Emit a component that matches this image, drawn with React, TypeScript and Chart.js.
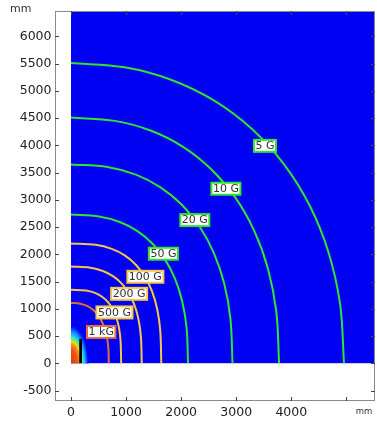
import React, { useEffect, useRef } from 'react';
import { Chart, registerables } from 'chart.js';

Chart.register(...registerables);

// ---- Data (mm) ----
const xTickValues = [0, 1000, 2000, 3000, 4000, 5000];
const yTickValues = [-500, 0, 500, 1000, 1500, 2000, 2500, 3000, 3500, 4000, 4500, 5000, 5500, 6000];

const contourNames = ['5 G', '10 G', '20 G', '50 G', '100 G', '200 G', '500 G', '1 kG'];

// contour traces (x, y in mm)
const contour5G = [
  [0, 5510], [973, 5432], [1827, 5200], [2601, 4820], [3286, 4300], [3868, 3653],
  [4336, 2892], [4678, 2031], [4887, 1081], [4957, 0],
];
const contour10G = [
  [0, 4510], [797, 4449], [1456, 4267], [2041, 3969], [2551, 3558], [2982, 3045],
  [3326, 2435], [3576, 1738], [3728, 951], [3779, 0],
];
const contour20G = [
  [0, 3650], [661, 3603], [1177, 3462], [1626, 3230], [2013, 2909], [2338, 2506],
  [2595, 2024], [2782, 1464], [2895, 822], [2933, 0],
];
const contour50G = [
  [0, 2730], [509, 2696], [885, 2595], [1207, 2428], [1481, 2196], [1709, 1903],
  [1890, 1550], [2020, 1137], [2099, 654], [2125, 0],
];
const contour100G = [
  [0, 2200], [448, 2175], [741, 2101], [982, 1978], [1182, 1806], [1346, 1586],
  [1474, 1317], [1566, 994], [1621, 601], [1640, 0],
];
const contour200G = [
  [0, 1776], [351, 1756], [580, 1696], [769, 1596], [926, 1458], [1055, 1280],
  [1155, 1063], [1227, 802], [1270, 486], [1285, 0],
];
const contour500G = [
  [0, 1350], [272, 1336], [435, 1293], [565, 1223], [672, 1123], [758, 995],
  [825, 837], [873, 644], [901, 404], [911, 0],
];
const contour1kG = [
  [0, 1110], [169, 1096], [291, 1056], [395, 989], [482, 897], [555, 779],
  [612, 638], [654, 471], [679, 274], [687, 0],
];

const contourData = [contour5G, contour10G, contour20G, contour50G, contour100G, contour200G, contour500G, contour1kG];
const contourColors = ['#2ee62e', '#2ee62e', '#2ee62e', '#2ee62e', '#f7c648', '#f7c648', '#f7c648', '#e66a3c'];

// label centers (mm)
const labelX = [3522, 2813, 2248, 1678, 1351, 1056, 790, 549];
const labelY = [3991, 3204, 2629, 2012, 1589, 1276, 935, 577];

// coil cross-section (mm)
const coilX = [150, 200];
const coilY = [0, 450];

const BLUE = 'rgb(0,0,242)';

const fieldPlugin = {
  id: 'fieldPlugin',
  beforeDatasetsDraw(chart: any) {
    const { ctx, chartArea, scales } = chart;
    const xs = scales.x;
    const ys = scales.y;
    const x0 = xs.getPixelForValue(0);
    const y0 = ys.getPixelForValue(0);
    ctx.save();
    ctx.beginPath();
    ctx.rect(x0, chartArea.top, chartArea.right - x0, y0 - chartArea.top);
    ctx.clip();
    ctx.fillStyle = BLUE;
    ctx.fillRect(x0, chartArea.top, chartArea.right - x0, y0 - chartArea.top);
    const rx = xs.getPixelForValue(320) - x0;
    const ry = y0 - ys.getPixelForValue(700);
    ctx.save();
    ctx.translate(x0, y0);
    ctx.scale(rx, ry);
    const g = ctx.createRadialGradient(0, 0, 0, 0, 0, 1);
    g.addColorStop(0, '#d8380e');
    g.addColorStop(0.35, '#ec5512');
    g.addColorStop(0.5, '#f59018');
    g.addColorStop(0.58, '#f2e01e');
    g.addColorStop(0.64, '#7ae84a');
    g.addColorStop(0.7, '#22e6e6');
    g.addColorStop(0.82, '#1e8cff');
    g.addColorStop(0.96, '#0010f0');
    g.addColorStop(1, BLUE);
    ctx.fillStyle = g;
    ctx.fillRect(-1, -1, 2, 2);
    ctx.restore();
    const cx1 = xs.getPixelForValue(coilX[0]);
    const cx2 = xs.getPixelForValue(coilX[1]);
    const cy1 = ys.getPixelForValue(coilY[1]);
    const cy2 = ys.getPixelForValue(coilY[0]);
    ctx.fillStyle = '#000';
    ctx.fillRect(cx1, cy1, cx2 - cx1, cy2 - cy1);
    ctx.restore();
  },
  afterDatasetsDraw(chart: any) {
    const { ctx, scales } = chart;
    ctx.save();
    ctx.font = '11px "DejaVu Sans"';
    ctx.textAlign = 'center';
    ctx.textBaseline = 'middle';
    contourNames.forEach((name, i) => {
      const cx = scales.x.getPixelForValue(labelX[i]);
      const cy = scales.y.getPixelForValue(labelY[i]);
      const tw = ctx.measureText(name).width;
      const w = tw + 3;
      const h = 12;
      ctx.fillStyle = '#fff';
      ctx.fillRect(cx - w / 2, cy - h / 2, w, h);
      ctx.strokeStyle = contourColors[i];
      ctx.lineWidth = 2;
      ctx.strokeRect(cx - w / 2, cy - h / 2, w, h);
      ctx.fillStyle = '#333';
      ctx.fillText(name, cx, cy + 0.5);
    });
    ctx.restore();
  },
  afterDraw(chart: any) {
    const { ctx, chartArea, scales } = chart;
    const { left, right, top, bottom } = chartArea;
    ctx.save();
    ctx.strokeStyle = '#8a8a8a';
    ctx.lineWidth = 1;
    ctx.strokeRect(left + 0.5, top + 0.5, right - left - 1, bottom - top - 1);
    ctx.strokeStyle = '#444';
    ctx.beginPath();
    const tl = 4;
    xTickValues.forEach((v) => {
      const p = Math.round(scales.x.getPixelForValue(v)) + 0.5;
      ctx.moveTo(p, bottom);
      ctx.lineTo(p, bottom - tl);
      ctx.moveTo(p, top);
      ctx.lineTo(p, top + tl);
    });
    yTickValues.forEach((v) => {
      const p = Math.round(scales.y.getPixelForValue(v)) + 0.5;
      ctx.moveTo(left, p);
      ctx.lineTo(left + tl, p);
      ctx.moveTo(right, p);
      ctx.lineTo(right - tl, p);
    });
    ctx.stroke();
    ctx.fillStyle = '#333';
    ctx.textBaseline = 'middle';
    ctx.textAlign = 'left';
    ctx.font = '11px "DejaVu Sans"';
    ctx.fillText('mm', 10, 9);
    ctx.textAlign = 'center';
    ctx.font = '8.5px "DejaVu Sans"';
    ctx.fillText('mm', 364, 412);
    ctx.restore();
  },
};

export default function App() {
  const ref = useRef<HTMLCanvasElement | null>(null);
  useEffect(() => {
    if (!ref.current) return;
    const chart = new Chart(ref.current, {
      type: 'scatter',
      data: {
        datasets: contourData.map((pts, i) => ({
          label: contourNames[i],
          data: pts.map(([x, y]) => ({ x, y })),
          showLine: true,
          borderColor: contourColors[i],
          backgroundColor: contourColors[i],
          borderWidth: 2,
          pointRadius: 0,
          tension: 0.35,
          fill: false,
        })),
      },
      options: {
        animation: false,
        responsive: false,
        devicePixelRatio: 1,
        layout: { padding: { top: 7, right: 2, left: 0, bottom: 0 } },
        plugins: { legend: { display: false }, tooltip: { enabled: false } },
        scales: {
          x: {
            type: 'linear',
            min: -290,
            max: 5520,
            grid: { display: false, drawTicks: false },
            border: { display: false },
            afterBuildTicks: (s: any) => { s.ticks = xTickValues.map((v) => ({ value: v })); },
            afterFit: (s: any) => { s.height = 22; },
            ticks: {
              autoSkip: false,
              maxRotation: 0,
              padding: 4,
              color: '#222',
              font: { family: 'DejaVu Sans', size: 12.5 },
              callback: (v: any) => (v === 5000 ? '' : String(v)),
            },
          },
          y: {
            type: 'linear',
            min: -690,
            max: 6465,
            grid: { display: false, drawTicks: false },
            border: { display: false },
            afterBuildTicks: (s: any) => { s.ticks = yTickValues.map((v) => ({ value: v })); },
            afterFit: (s: any) => { s.width = 55; },
            ticks: {
              autoSkip: false,
              padding: 3.5,
              color: '#222',
              font: { family: 'DejaVu Sans', size: 12.5 },
              callback: (v: any) => String(v),
            },
          },
        },
      },
      plugins: [fieldPlugin],
    });
    return () => chart.destroy();
  }, []);
  return (
    <div style={{ position: 'fixed', left: 0, top: 0, width: 377, height: 423, background: '#fff' }}>
      <canvas ref={ref} width={377} height={423} style={{ display: 'block' }} />
    </div>
  );
}
